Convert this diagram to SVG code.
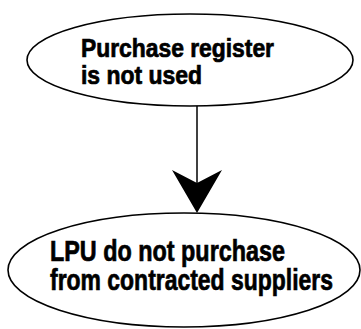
<svg xmlns="http://www.w3.org/2000/svg" width="361" height="329" viewBox="0 0 361 329">
<style>
.node{fill:#fff;stroke:#000;stroke-width:1.6}
.t{font-family:"Liberation Sans",Arial,sans-serif;font-weight:bold;fill:#000;stroke:#000;stroke-width:0.7}
.edge{stroke:#000;stroke-width:1.5;fill:none}
</style>
<rect width="361" height="329" fill="#fff"/>
<g id="connectors">
<line class="edge" x1="197" y1="106" x2="197" y2="190"/>
<polygon points="172,170 197,183 222,170 197,213" fill="#000"/>
</g>
<g id="node1">
<ellipse class="node" cx="190" cy="60" rx="163" ry="46"/>
<text class="t" font-size="25" x="81" y="57" textLength="193" lengthAdjust="spacingAndGlyphs">Purchase register</text>
<text class="t" font-size="25" x="81" y="84" textLength="121" lengthAdjust="spacingAndGlyphs">is not used</text>
</g>
<g id="node2">
<ellipse class="node" cx="184" cy="270" rx="176" ry="57"/>
<text class="t" font-size="29" x="50" y="261" textLength="235" lengthAdjust="spacingAndGlyphs">LPU do not purchase</text>
<text class="t" font-size="29" x="50" y="290" textLength="283" lengthAdjust="spacingAndGlyphs">from contracted suppliers</text>
</g>
</svg>
